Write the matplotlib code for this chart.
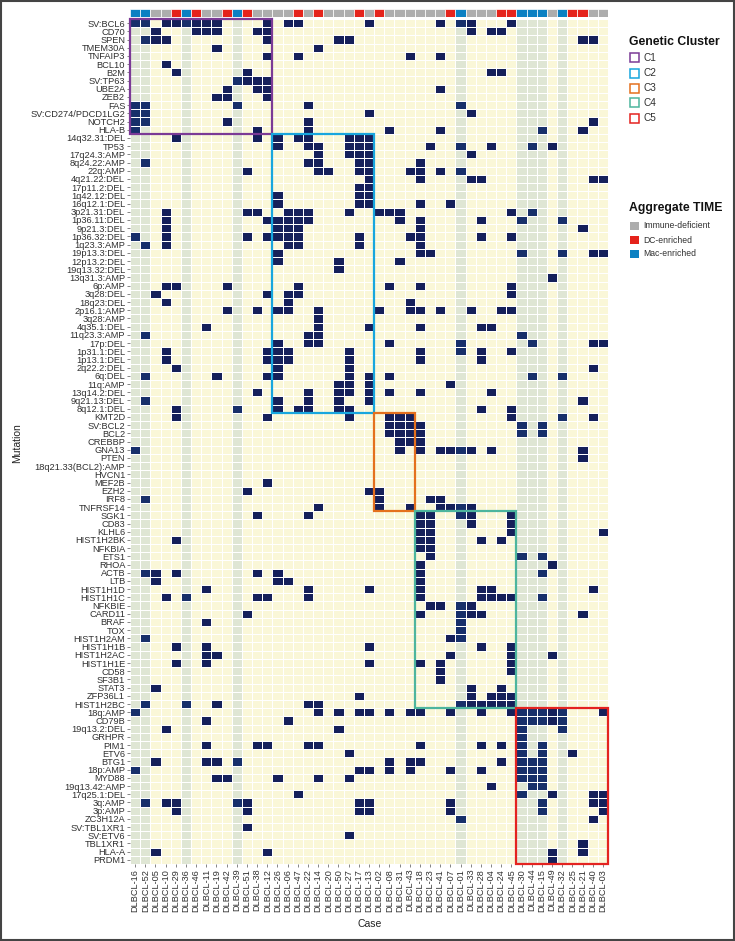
import numpy as np
import matplotlib
matplotlib.use("Agg")
import matplotlib.pyplot as plt
from matplotlib.colors import ListedColormap
from matplotlib.patches import Rectangle

# ---- data ----
cases = ["DLBCL-16", "DLBCL-52", "DLBCL-05", "DLBCL-10", "DLBCL-29", "DLBCL-36", "DLBCL-46",
         "DLBCL-11", "DLBCL-19", "DLBCL-42", "DLBCL-39", "DLBCL-51", "DLBCL-38", "DLBCL-12",
         "DLBCL-26", "DLBCL-06", "DLBCL-47", "DLBCL-22", "DLBCL-14", "DLBCL-20", "DLBCL-50",
         "DLBCL-27", "DLBCL-17", "DLBCL-13", "DLBCL-02", "DLBCL-08", "DLBCL-31", "DLBCL-43",
         "DLBCL-18", "DLBCL-23", "DLBCL-41", "DLBCL-07", "DLBCL-01", "DLBCL-33", "DLBCL-28",
         "DLBCL-04", "DLBCL-24", "DLBCL-45", "DLBCL-30", "DLBCL-44", "DLBCL-15", "DLBCL-49",
         "DLBCL-32", "DLBCL-25", "DLBCL-21", "DLBCL-40", "DLBCL-03"]

I, D, M = "Immune-deficient", "DC-enriched", "Mac-enriched"
case_time = [M, M, I, I, D, M, D, I, I, D, M, D, I, I, I, I, D, I, D, I, I, I, D, I,
             D, I, I, I, I, I, I, D, M, I, I, I, D, D, M, M, M, I, M, D, D, I, I]

case_cluster = ["C1"] * 14 + ["C2"] * 10 + ["C3"] * 4 + ["C4"] * 10 + ["C5"] * 9

mutations = ["SV:BCL6", "CD70", "SPEN", "TMEM30A", "TNFAIP3", "BCL10", "B2M", "SV:TP63",
             "UBE2A", "ZEB2", "FAS", "SV:CD274/PDCD1LG2", "NOTCH2", "HLA-B",
             "14q32.31:DEL", "TP53", "17q24.3:AMP", "8q24.22:AMP", "22q:AMP", "4q21.22:DEL",
             "17p11.2:DEL", "1q42.12:DEL", "16q12.1:DEL", "3p21.31:DEL", "1p36.11:DEL",
             "9p21.3:DEL", "1p36.32:DEL", "1q23.3:AMP", "19p13.3:DEL", "12p13.2:DEL",
             "19q13.32:DEL", "13q31.3:AMP", "6p:AMP", "3q28:DEL", "18q23:DEL", "2p16.1:AMP",
             "3q28:AMP", "4q35.1:DEL", "11q23.3:AMP", "17p:DEL", "1p31.1:DEL", "1p13.1:DEL",
             "2q22.2:DEL", "6q:DEL", "11q:AMP", "13q14.2:DEL", "9q21.13:DEL", "8q12.1:DEL",
             "KMT2D", "SV:BCL2", "BCL2", "CREBBP", "GNA13", "PTEN", "18q21.33(BCL2):AMP",
             "HVCN1", "MEF2B", "EZH2", "IRF8", "TNFRSF14",
             "SGK1", "CD83", "KLHL6", "HIST1H2BK", "NFKBIA", "ETS1", "RHOA", "ACTB", "LTB",
             "HIST1H1D", "HIST1H1C", "NFKBIE", "CARD11", "BRAF", "TOX", "HIST1H2AM",
             "HIST1H1B", "HIST1H2AC", "HIST1H1E", "CD58", "SF3B1", "STAT3", "ZFP36L1",
             "HIST1H2BC",
             "18q:AMP", "CD79B", "19q13.2:DEL", "GRHPR", "PIM1", "ETV6", "BTG1", "18p:AMP",
             "MYD88", "19q13.42:AMP", "17q25.1:DEL", "3q:AMP", "3p:AMP", "ZC3H12A",
             "SV:TBL1XR1", "SV:ETV6", "TBL1XR1", "HLA-A", "PRDM1"]

mutation_cluster = ["C1"] * 14 + ["C2"] * 34 + ["C3"] * 12 + ["C4"] * 24 + ["C5"] * 19

# cases (DLBCL number) carrying each mutation, same order as `mutations`
mutated_cases = [
    "16 52 10 29 36 46 11 19 12 06 47 13 41 01 33 45",
    "05 46 11 19 38 12 33 04 24",
    "52 05 10 12 50 27 21 40",
    "19 14",
    "12 47 43 41",
    "10",
    "29 51 04 24",
    "39 51 38 12",
    "42 38 12 41",
    "19 42 12",
    "16 52 39 22 01",
    "16 52 13 33",
    "16 52 42 22 40",
    "16 38 22 08 41 15 21",
    "29 38 26 47 22 27 17 13",
    "26 22 14 27 17 13 23 01 04 44 49",
    "14 27 17 13 33",
    "52 22 14 17 13 18",
    "51 14 20 17 13 43 18 41 01",
    "13 18 33 28 40 03",
    "17 13",
    "26 17 13",
    "26 17 13 18 07",
    "10 51 38 06 47 22 27 02 08 31 45 44",
    "10 12 26 06 47 22 31 18 28 30 32",
    "10 26 06 47 18 21",
    "16 10 51 12 26 06 47 17 43 18 28 45",
    "52 10 06 47 17 18",
    "26 18 23 30 32 40 03",
    "26 50 31",
    "50",
    "49",
    "10 29 42 47 08 18 45",
    "05 12 06 47 45",
    "10 06 43",
    "42 38 26 06 14 02 43 18 41 33 24 45",
    "14",
    "11 14 13 18 28 04",
    "52 22 14 30",
    "26 22 14 08 01 44 40 03",
    "10 12 26 06 27 18 01 28 45",
    "10 12 26 06 27 18 28",
    "29 26 27 40",
    "52 19 12 26 27 13 08 44 32",
    "50 27 13 07",
    "38 22 50 27 13 08 18 04",
    "52 26 22 50 13 21",
    "29 39 26 47 22 50 27 28 45",
    "29 12 27 08 31 43 45 32 40",
    "08 31 43 18 30 15",
    "08 31 43 18 30 15",
    "31 43 18",
    "16 31 18 41 07 01 33 04 21",
    "21",
    "",
    "",
    "12",
    "51 13 02",
    "52 02 23 41",
    "14 02 43 41 07 01 33",
    "38 22 18 23 01 33 45",
    "18 23 33 45",
    "18 23 45 03",
    "29 18 23 28 24",
    "18 23",
    "23 30 15",
    "18 49",
    "52 05 29 38 26 18 15",
    "05 26 06 18",
    "11 22 13 18 28 04 40",
    "10 36 38 12 22 18 28 04 24 45 15",
    "23 41 01 33",
    "51 18 01 33 28 21",
    "11 01",
    "01",
    "52 07 01",
    "29 11 13 28 45",
    "11 19 07 45 49",
    "29 11 13 18 41 45",
    "41 45",
    "41",
    "05 33 24",
    "17 33 04 24 45",
    "52 36 19 22 14 01 33 28 04 24 45",
    "16 14 50 17 13 08 43 18 07 28 45 30 44 15 49 32 03",
    "11 06 30 44 15 49 32",
    "10 50 30 32",
    "30",
    "11 38 12 22 14 18 28 24 30 15",
    "27 30 15 25",
    "05 11 19 39 08 43 18 24 30 44 15",
    "16 17 13 08 43 07 28 30 44 15",
    "19 42 26 14 27 30 44 15",
    "04 44 15",
    "47 30 49 40 03",
    "52 10 29 39 51 17 13 07 15 40 03",
    "29 51 17 13 07 15 03",
    "01 40",
    "51",
    "27",
    "21",
    "05 12 49 21",
    "49",
]

cluster_names = ["C1", "C2", "C3", "C4", "C5"]
time_names = [I, D, M]

# ---- styling ----
CLUSTER_COLORS = {"C1": "#7B3A96", "C2": "#18A6DE", "C3": "#E4701E", "C4": "#4DB59E", "C5": "#E42320"}
TIME_COLORS = {I: "#ADADAD", D: "#E5231B", M: "#0B80C2"}
EMPTY, EMPTY_MAC = "#FAF7D8", "#DFE6D4"
HIT, HIT_MAC = "#15205A", "#172F6A"
TEXT = "#303030"

W, H = 735, 941
fig = plt.figure(figsize=(W / 100, H / 100), dpi=100)


def box(x0, y0, x1, y1):
    # pixel box -> figure fraction [left, bottom, width, height]
    return [x0 / W, 1 - y1 / H, (x1 - x0) / W, (y1 - y0) / H]


n_rows, n_cols = len(mutations), len(cases)
col_of = {c.split("-")[1]: i for i, c in enumerate(cases)}
grid = np.zeros((n_rows, n_cols))
for r, row in enumerate(mutated_cases):
    for c in row.split():
        grid[r, col_of[c]] = 2
is_mac = np.array([t == M for t in case_time], dtype=float)
grid += is_mac[None, :]

ax = fig.add_axes(box(130, 19, 608, 864))
ax.pcolormesh(grid, cmap=ListedColormap([EMPTY, EMPTY_MAC, HIT, HIT_MAC]), vmin=-0.5, vmax=3.5,
              edgecolors="white", linewidth=0.45)
ax.set_xlim(0, n_cols)
ax.set_ylim(n_rows, 0)
for s in ax.spines.values():
    s.set_visible(False)
ax.set_yticks(np.arange(n_rows) + 0.5, mutations, fontsize=6.7, color=TEXT, family="Liberation Sans")
ax.set_xticks(np.arange(n_cols) + 0.5, cases, fontsize=6.6, color=TEXT, family="Liberation Sans",
              rotation=90)
ax.tick_params(length=2, width=0.5, color="#555555", pad=1.5)

# genetic cluster boxes
mc = np.array(mutation_cluster)
cc = np.array(case_cluster)
for k in cluster_names:
    cols = np.where(cc == k)[0]
    rows = np.where(mc == k)[0]
    ax.add_patch(Rectangle((cols.min(), rows.min()), cols.max() + 1 - cols.min(),
                           rows.max() + 1 - rows.min(), fill=False,
                           edgecolor=CLUSTER_COLORS[k], lw=1.6, clip_on=False, zorder=5))

# aggregate TIME bar
tax = fig.add_axes(box(130, 9.3, 608, 16.8))
for i, t in enumerate(case_time):
    tax.add_patch(Rectangle((i, 0), 1, 1, facecolor=TIME_COLORS[t], edgecolor="white", lw=0.5))
tax.set_xlim(0, n_cols)
tax.set_ylim(0, 1)
tax.axis("off")

narrow = ["Liberation Sans Narrow", "Liberation Sans"]
fig.text(369.5 / W, 1 - 924 / H, "Case", ha="center", va="center", fontsize=7.5, color="#222222",
         family=narrow)
fig.text(17 / W, 1 - 443 / H, "Mutation", ha="center", va="center", rotation=90, fontsize=7.5,
         color="#222222", family=narrow)

# legends
fig.text(629 / W, 1 - 42 / H, "Genetic Cluster", ha="left", va="center", fontsize=8.8,
         fontweight="bold", color="#111111", family="Liberation Sans")
for j, k in enumerate(cluster_names):
    y = 58 + 15 * j
    fig.patches.append(Rectangle((629.5 / W, 1 - (y + 4.5) / H), 9 / W, 9 / H, fill=False,
                                 edgecolor=CLUSTER_COLORS[k], lw=1.1, transform=fig.transFigure))
    fig.text(644 / W, 1 - y / H, k, ha="left", va="center", fontsize=7.2, color=TEXT,
             family="Liberation Sans")

fig.text(629 / W, 1 - 208 / H, "Aggregate TIME", ha="left", va="center", fontsize=8.8,
         fontweight="bold", color="#111111", family="Liberation Sans")
for j, t in enumerate(time_names):
    y = 226 + 14 * j
    fig.patches.append(Rectangle((629.5 / W, 1 - (y + 4) / H), 9 / W, 8 / H,
                                 facecolor=TIME_COLORS[t], edgecolor="none",
                                 transform=fig.transFigure))
    fig.text(643 / W, 1 - y / H, t, ha="left", va="center", fontsize=6.2, color=TEXT,
             family="Liberation Sans")

# outer frame
fig.patches.append(Rectangle((0.001, 0.001), 0.998, 0.998, fill=False, edgecolor="#444444", lw=1.5,
                             transform=fig.transFigure))

fig.savefig("out.png", dpi=100)
